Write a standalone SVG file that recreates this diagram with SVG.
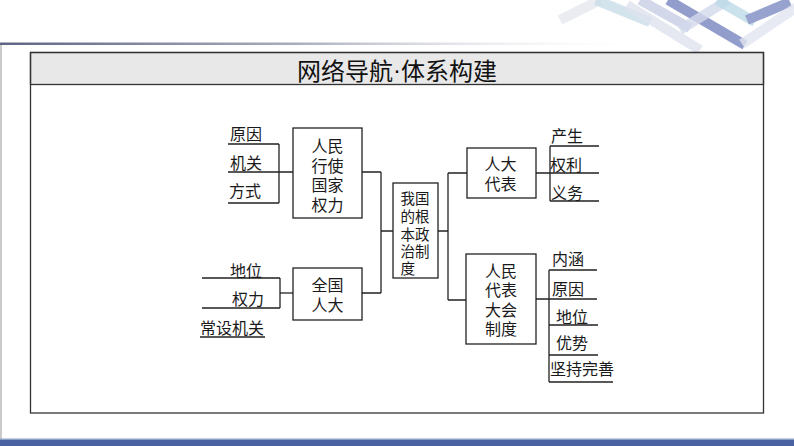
<svg xmlns="http://www.w3.org/2000/svg" width="794" height="446" viewBox="0 0 794 446">
<defs>
<linearGradient id="topline" x1="0" y1="0" x2="1" y2="0">
<stop offset="0" stop-color="#5f6685"/>
<stop offset="0.45" stop-color="#a9adbd"/>
<stop offset="1" stop-color="#ffffff" stop-opacity="0"/>
</linearGradient>
<style>
.t{font-family:"Noto Sans CJK SC","Noto Sans",sans-serif;font-size:16px;fill:#1a1a1a;dominant-baseline:central;text-anchor:middle}
.s{font-size:14.5px}
.title{font-family:"Noto Sans CJK SC","Noto Sans",sans-serif;font-size:24px;fill:#111;dominant-baseline:central;text-anchor:middle}
.dot{font-family:"Liberation Sans",sans-serif}
.box{fill:#fff;stroke:#222;stroke-width:1.3}
.ln{stroke:#222;stroke-width:1.3;fill:none}
.deco{fill:none;stroke-width:10;stroke-linecap:butt}
</style>
</defs>
<rect width="794" height="446" fill="#fff"/>
<g id="decoration" opacity="0.75">
<line class="deco" x1="560" y1="20" x2="600" y2="0" stroke="#e3e6ee" stroke-width="8"/>
<line class="deco" x1="596" y1="0" x2="650" y2="22" stroke="#b8d2e2" opacity="0.8"/>
<line class="deco" x1="627" y1="5" x2="700" y2="50" stroke="#d5d9e8" opacity="0.8"/>
<line class="deco" x1="640" y1="0" x2="690" y2="28" stroke="#a9b4d8" opacity="0.7"/>
<line class="deco" x1="668" y1="0" x2="745" y2="45" stroke="#6f7dbb"/>
<line class="deco" x1="728" y1="0" x2="680" y2="30" stroke="#c5cde6" opacity="0.8"/>
<line class="deco" x1="717" y1="0" x2="755" y2="22" stroke="#a8d0e0" opacity="0.8"/>
<line class="deco" x1="790" y1="2" x2="747" y2="20" stroke="#7684c0"/>
<line class="deco" x1="800" y1="5" x2="742" y2="44" stroke="#d8dcea" opacity="0.8"/>
</g>
<rect x="0" y="42.5" width="660" height="2.5" fill="url(#topline)"/>
<line x1="1" y1="45" x2="1" y2="440" stroke="#b8b8b8" stroke-width="1.5"/>
<rect x="0" y="438.5" width="794" height="1.5" fill="#8fa0c8"/>
<rect x="0" y="440" width="794" height="6" fill="#4a62a2"/>
<g id="frame">
<rect x="30.5" y="52.5" width="733" height="32" fill="#e8e8e8" stroke="#333" stroke-width="1.3"/>
<rect x="30.5" y="52.5" width="733" height="360.5" fill="none" stroke="#333" stroke-width="1.3"/>
<text class="title" x="397" y="69">网络导航<tspan class="dot">·</tspan>体系构建</text>
</g>
<g id="connectors">
<path class="ln" d="M228 144H279M228 172H293M228 203H279M279 144V203"/>
<path class="ln" d="M202 278H280M202 308H280M200 337H265M280 278V308"/>
<path class="ln" d="M280 293H293" stroke-width="2.2"/>
<path class="ln" d="M362 172H381M362 293H381M381 172V293M381 231H393"/>
<path class="ln" d="M438 231H448M448 173V300M448 173H467M448 300H466"/>
<path class="ln" d="M536 173H550M550 146V201M550 146H599M550 173H599M550 201H599"/>
<path class="ln" d="M536 299H549M549 270V382M549 270H597M549 299H597M549 325H598M549 355H598M549 382H613"/>
</g>
<g id="labels-left1">
<text class="t" x="246" y="133">原因</text>
<text class="t" x="246" y="162">机关</text>
<text class="t" x="245" y="190">方式</text>
</g>
<g id="labels-left2">
<text class="t" x="246" y="270">地位</text>
<text class="t" x="248" y="298">权力</text>
<text class="t" x="232" y="327">常设机关</text>
</g>
<g id="labels-right1">
<text class="t" x="567" y="135">产生</text>
<text class="t" x="566" y="164">权利</text>
<text class="t" x="567" y="192">义务</text>
</g>
<g id="labels-right2">
<text class="t" x="568" y="258">内涵</text>
<text class="t" x="568" y="288">原因</text>
<text class="t" x="572" y="316">地位</text>
<text class="t" x="572" y="342">优势</text>
<text class="t" x="582" y="368">坚持完善</text>
</g>
<g id="node-renmin-xingshi">
<rect class="box" x="293" y="128" width="69" height="90"/>
<text class="t" x="327.5" y="145">人民<tspan x="327.5" dy="19.5">行使</tspan><tspan x="327.5" dy="19.5">国家</tspan><tspan x="327.5" dy="19.5">权力</tspan></text>
</g>
<g id="node-quanguo-renda">
<rect class="box" x="293" y="268" width="69" height="52"/>
<text class="t" x="327.5" y="284.2">全国<tspan x="327.5" dy="19.6">人大</tspan></text>
</g>
<g id="node-genben-zhengzhi">
<rect class="box" x="393" y="183" width="45" height="95"/>
<text class="t s" x="415" y="197.7">我国<tspan x="415" dy="17.4">的根</tspan><tspan x="415" dy="17.4">本政</tspan><tspan x="415" dy="17.4">治制</tspan><tspan x="407.75" dy="17.4">度</tspan></text>
</g>
<g id="node-renda-daibiao">
<rect class="box" x="467" y="148" width="69" height="50"/>
<text class="t" x="500.5" y="163">人大<tspan x="500.5" dy="20">代表</tspan></text>
</g>
<g id="node-renda-zhidu">
<rect class="box" x="466" y="254" width="70" height="90"/>
<text class="t" x="501" y="269.6">人民<tspan x="501" dy="19.6">代表</tspan><tspan x="501" dy="19.6">大会</tspan><tspan x="501" dy="19.6">制度</tspan></text>
</g>
</svg>
